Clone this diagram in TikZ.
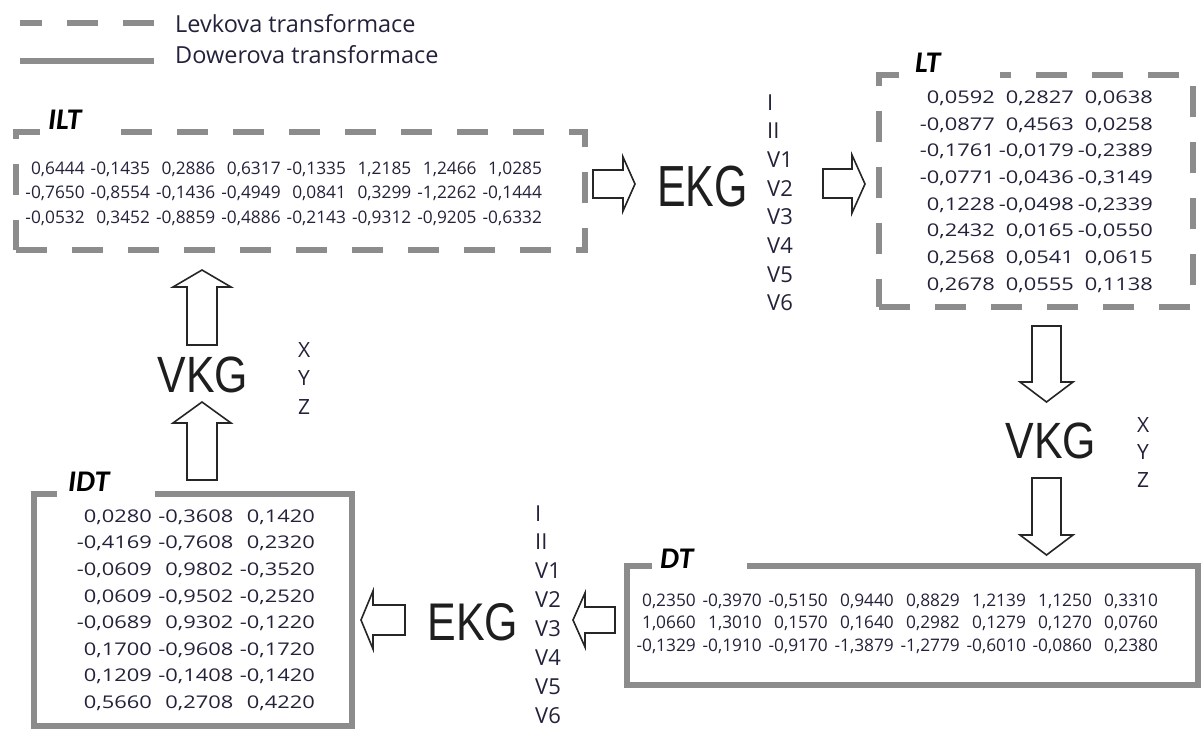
\documentclass[tikz,border=0pt]{standalone}
\usepackage{fontspec}
\setmainfont{Open Sans}
\newfontfamily\arialf{Liberation Sans}
\newfontfamily\calibf{Carlito}
\usepackage{array}
\newcolumntype{R}[1]{>{\raggedleft\arraybackslash}p{#1}}
\definecolor{boxgray}{HTML}{8C8C8C}
\definecolor{txt}{HTML}{22223A}
\definecolor{bigtxt}{HTML}{1E1E1E}
\begin{document}
\begin{tikzpicture}[x=1pt,y=-1pt,
  dashbox/.style={draw=boxgray, line width=6.5pt, dash pattern=on 31pt off 25pt, outer sep=0pt, inner sep=0pt, anchor=north west},
  solidbox/.style={draw=boxgray, line width=6.5pt, outer sep=0pt, inner sep=0pt, anchor=north west},
  blockarrow/.style={draw=black!85, line width=1.6pt, fill=white, line join=miter},
  bigword/.style={inner sep=0pt, text=bigtxt, font=\arialf\fontsize{51}{51}\selectfont},
  lead/.style={inner sep=0pt, anchor=base west, text=txt, font=\fontsize{22}{26}\selectfont},
  xyz/.style={inner sep=0pt, anchor=base west, text=txt, font=\fontsize{21}{25}\selectfont},
  nums/.style={inner sep=0pt, anchor=base east, text=txt},
  titlebox/.style={fill=white, anchor=west, minimum height=34pt, inner ysep=0pt, text=black, font=\calibf\bfseries\itshape\fontsize{30}{30}\selectfont},
  legendtxt/.style={inner sep=0pt, anchor=base west, text=txt, font=\fontsize{23.5}{28}\selectfont},
  legline/.style={draw=boxgray, line width=6pt}
]
\useasboundingbox (0,0) rectangle (1203,729);

% legend
\coordinate (l1a) at (20,22.5);
\coordinate (l1b) at (154,22.5);
\draw[legline, dash pattern=on 31pt off 25pt, dash phase=9pt] (l1a) -- (l1b);
\node[legendtxt] (lev) at (175,32) {Levkova transformace};
\coordinate (l2a) at (20,61);
\coordinate (l2b) at (154,61);
\draw[legline] (l2a) -- (l2b);
\node[legendtxt] (dow) at (175,63) {Dowerova transformace};

% boxes
\node[dashbox, minimum width=569pt, minimum height=118pt] (ilt) at (16,132) {};
\node[dashbox, minimum width=314pt, minimum height=232pt] (lt) at (879,75) {};
\node[solidbox, minimum width=571pt, minimum height=119pt] (dt) at (627,566) {};
\node[solidbox, minimum width=318pt, minimum height=232pt] (idt) at (34,494) {};

% titles
\node[titlebox, inner xsep=3pt, text width=69pt] (iltT) at (45,120) {ILT};
\node[titlebox, inner xsep=10pt, text width=75pt] (ltT) at (905,62.5) {LT};
\node[titlebox, inner xsep=8pt, text width=79pt] (dtT) at (652,559) {DT};
\node[titlebox, inner xsep=11pt, text width=76pt] (idtT) at (57,482) {IDT};

% numbers
\node[nums, font=\fontsize{17.3}{24.5}\selectfont] (iltnum) at (542,174) {\begin{tabular}[t]{@{}*{8}{R{65.3pt}@{}}}
0,6444 & -0,1435 & 0,2886 & 0,6317 & -0,1335 & 1,2185 & 1,2466 & 1,0285\\
-0,7650 & -0,8554 & -0,1436 & -0,4949 & 0,0841 & 0,3299 & -1,2262 & -0,1444\\
-0,0532 & 0,3452 & -0,8859 & -0,4886 & -0,2143 & -0,9312 & -0,9205 & -0,6332
\end{tabular}};

\node[nums, font=\fontsize{17.3}{22.5}\selectfont] (dtnum) at (1158,606.2) {\begin{tabular}[t]{@{}*{8}{R{66pt}@{}}}
0,2350 & -0,3970 & -0,5150 & 0,9440 & 0,8829 & 1,2139 & 1,1250 & 0,3310\\
1,0660 & 1,3010 & 0,1570 & 0,1640 & 0,2982 & 0,1279 & 0,1270 & 0,0760\\
-0,1329 & -0,1910 & -0,9170 & -1,3879 & -1,2779 & -0,6010 & -0,0860 & 0,2380
\end{tabular}};

\node[nums, font=\fontsize{17.5}{26.7}\selectfont] (ltnum) at (1153,103.3) {\scalebox{1.25}[1]{\begin{tabular}[t]{@{}*{3}{R{63.2pt}@{}}}
0,0592 & 0,2827 & 0,0638\\
-0,0877 & 0,4563 & 0,0258\\
-0,1761 & -0,0179 & -0,2389\\
-0,0771 & -0,0436 & -0,3149\\
0,1228 & -0,0498 & -0,2339\\
0,2432 & 0,0165 & -0,0550\\
0,2568 & 0,0541 & 0,0615\\
0,2678 & 0,0555 & 0,1138
\end{tabular}}};

\node[nums, font=\fontsize{17.5}{26.6}\selectfont] (idtnum) at (315,522.3) {\scalebox{1.25}[1]{\begin{tabular}[t]{@{}*{3}{R{65.2pt}@{}}}
0,0280 & -0,3608 & 0,1420\\
-0,4169 & -0,7608 & 0,2320\\
-0,0609 & 0,9802 & -0,3520\\
0,0609 & -0,9502 & -0,2520\\
-0,0689 & 0,9302 & -0,1220\\
0,1700 & -0,9608 & -0,1720\\
0,1209 & -0,1408 & -0,1420\\
0,5660 & 0,2708 & 0,4220
\end{tabular}}};

% big words
\node[bigword, font=\arialf\fontsize{58}{58}\selectfont] (ekgtop) at (702.5,186.5) {\scalebox{0.74}[1]{EKG}};
\node[bigword, font=\arialf\fontsize{53}{53}\selectfont] (ekgbot) at (473,622.5) {\scalebox{0.81}[1]{EKG}};
\node[bigword] (vkgl) at (203,375) {\scalebox{0.84}[1]{VKG}};
\node[bigword] (vkgr) at (1051,440.5) {\scalebox{0.84}[1]{VKG}};

% leads
\foreach \t [count=\i from 0] in {I,II,V1,V2,V3,V4,V5,V6}
  \node[lead] (leadT\i) at (767,{110+28.7*\i}) {\t};
\foreach \t [count=\i from 0] in {I,II,V1,V2,V3,V4,V5,V6}
  \node[lead] (leadB\i) at (535,{521+28.9*\i}) {\t};

% XYZ
\foreach \t [count=\i from 0] in {X,Y,Z}
  \node[xyz] (xyzL\i) at (298,{357+28.5*\i}) {\t};
\foreach \t [count=\i from 0] in {X,Y,Z}
  \node[xyz] (xyzR\i) at (1137,{432+27.5*\i}) {\t};

% block arrows
\draw[blockarrow] (593,170) -- (623,170) -- (623,157) -- (635,184) -- (623,211) -- (623,198) -- (593,198) -- cycle;
\draw[blockarrow] (823,169) -- (852,169) -- (852,155) -- (865,184) -- (852,213) -- (852,198) -- (823,198) -- cycle;
\draw[blockarrow] (1032,326) -- (1061,326) -- (1061,382) -- (1073,382) -- (1046.5,402) -- (1020,382) -- (1032,382) -- cycle;
\draw[blockarrow] (1032,478) -- (1061,478) -- (1061,535) -- (1073,535) -- (1046.5,555) -- (1020,535) -- (1032,535) -- cycle;
\draw[blockarrow] (187,345) -- (217,345) -- (217,287) -- (231,287) -- (202,270) -- (173,287) -- (187,287) -- cycle;
\draw[blockarrow] (187,480) -- (217,480) -- (217,423) -- (231,423) -- (202,402) -- (173,423) -- (187,423) -- cycle;
\draw[blockarrow] (615,607) -- (585,607) -- (585,593) -- (573,620) -- (585,647) -- (585,633) -- (615,633) -- cycle;
\draw[blockarrow] (405,605) -- (373,605) -- (373,591) -- (361,620) -- (373,649) -- (373,635) -- (405,635) -- cycle;
\end{tikzpicture}
\end{document}
